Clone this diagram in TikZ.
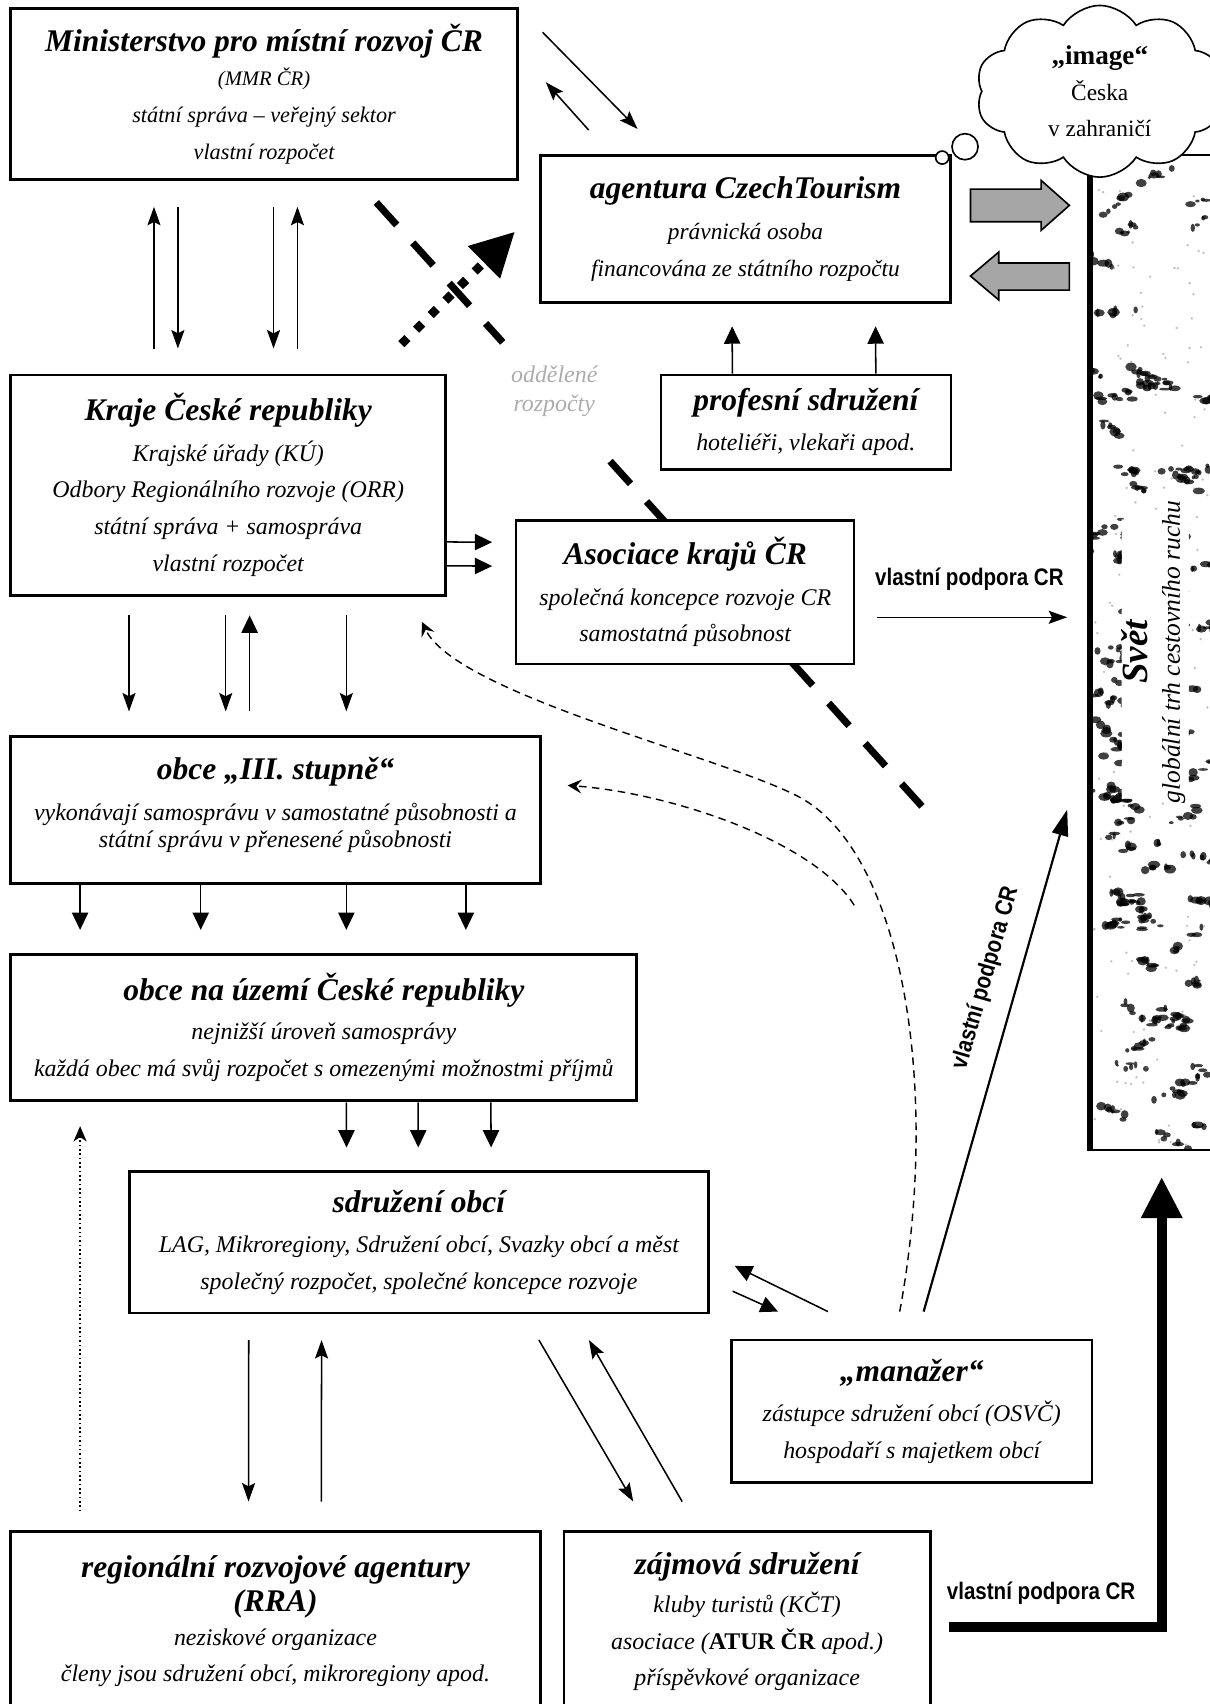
\documentclass[tikz,border=0pt]{standalone}
\usepackage{fontspec}
\setmainfont{Liberation Serif}
\newfontfamily\podporafont{Liberation Sans}
\usepackage{graphicx}
\usetikzlibrary{arrows.meta}
\usetikzlibrary{calc, backgrounds, shapes.symbols}

\newcommand{\boxtitle}{\fontsize{29}{34}\selectfont\bfseries\itshape}
\newcommand{\podpora}{\podporafont\bfseries\fontsize{22}{22}\selectfont}

\tikzset{
  box/.style={draw, line width=2.6pt, fill=white, inner sep=0pt, align=center, font=\fontsize{22}{34}\selectfont\itshape},
  arr/.style={line width=1.4pt, -{Stealth[length=17pt, width=12pt, inset=3pt]}},
  tri/.style={line width=1.4pt, -{Triangle[length=16pt, width=15pt]}},
  dasharr/.style={line width=1.3pt, dash pattern=on 7pt off 5pt, -{Stealth[length=13pt, width=13pt, inset=5pt]}},
  podporalbl/.style={font=\podpora, inner sep=0pt}
}

\begin{document}
\begin{tikzpicture}[x=1pt, y=-1pt]
          \useasboundingbox (0,0) rectangle (1113,1568);

          \node [box, minimum width=466pt, minimum height=157pt, font=\fontsize{20.5}{34}\selectfont\itshape] (mmr) at (243,86.5) {{\boxtitle Ministerstvo pro místní rozvoj ČR}\\[-3pt]{\fontsize{19}{34}\selectfont (MMR ČR)}\\státní správa – veřejný sektor\\vlastní rozpočet}; % Draws a box
          \node [box, minimum width=378pt, minimum height=135pt, font=\fontsize{21.5}{34}\selectfont\itshape] (ct) at (686,210.5) {{\boxtitle agentura CzechTourism}\\[4pt]právnická osoba\\financována ze státního rozpočtu}; % Draws a box
          \node [box, minimum width=400pt, minimum height=203pt] (kraje) at (210,446.5) {{\boxtitle Kraje České republiky}\\[3pt]Krajské úřady (KÚ)\\Odbory Regionálního rozvoje (ORR)\\státní správa + samospráva\\vlastní rozpočet}; % Draws a box
          \node [box, line width=2.2pt, minimum width=267pt, minimum height=87pt] (prof) at (741.5,388.5) {{\boxtitle profesní sdružení}\\[3pt]hoteliéři, vlekaři apod.}; % Draws a box
          \node [box, line width=2.2pt, minimum width=311pt, minimum height=132pt] (asoc) at (630.5,545) {{\boxtitle Asociace krajů ČR}\\[3pt]společná koncepce rozvoje CR\\samostatná působnost}; % Draws a box
          \node [box, minimum width=487pt, minimum height=135pt] (obce3) at (253.5,745.5) {{\boxtitle obce „III. stupně“}\\[4pt]vykonávají samosprávu v samostatné působnosti a\\[-9pt]státní správu v přenesené působnosti\\[-20pt]\mbox{}}; % Draws a box
          \node [box, minimum width=576pt, minimum height=135pt] (obcecr) at (298,945.5) {{\boxtitle obce na území České republiky}\\[2pt]nejnižší úroveň samosprávy\\každá obec má svůj rozpočet s omezenými možnostmi příjmů}; % Draws a box
          \node [box, line width=2.2pt, minimum width=533pt, minimum height=130pt] (sdruz) at (385.5,1143) {{\boxtitle sdružení obcí}\\[3pt]LAG, Mikroregiony, Sdružení obcí, Svazky obcí a měst\\společný rozpočet, společné koncepce rozvoje}; % Draws a box
          \node [box, line width=2.2pt, minimum width=332pt, minimum height=131pt] (manazer) at (839,1298.5) {{\boxtitle „manažer“}\\[3pt]zástupce sdružení obcí (OSVČ)\\hospodaří s majetkem obcí}; % Draws a box
          \node [box, minimum width=487pt, minimum height=166pt] (rra) at (253.5,1492) {{\boxtitle regionální rozvojové agentury}\\[-3pt]{\boxtitle (RRA)}\\[-3pt]neziskové organizace\\členy jsou sdružení obcí, mikroregiony apod.}; % Draws a box
          \node [box, minimum width=337pt, minimum height=166pt] (zajm) at (687.5,1492) {{\boxtitle zájmová sdružení}\\[1pt]kluby turistů (KČT)\\asociace ({\upshape\bfseries ATUR ČR} apod.)\\příspěvkové organizace}; % Draws a box

          % the world strip
          \node [draw, line width=2pt, fill=white, minimum width=121pt, minimum height=915pt, inner sep=0pt] (svet) at (1064.5,600.5) {};
          \begin{scope}[even odd rule]
            \clip ($(svet.north west)+(2,1)$) rectangle ($(svet.south east)+(-1,-1)$) (1032,478) rectangle (1094,735);
            \pgfmathsetseed{11}
            \foreach \c in {1,...,80}{
              \pgfmathsetmacro{\clx}{1006+110*rnd}
              \pgfmathsetmacro{\cly}{147+908*rnd}
              \pgfmathsetmacro{\cla}{-40+80*rnd}
              \foreach \j in {1,...,7}{
                \pgfmathsetmacro{\bt}{-17+34*rnd}
                \pgfmathsetmacro{\bx}{\clx+\bt*cos(\cla)+3*rand}
                \pgfmathsetmacro{\by}{\cly+\bt*sin(\cla)+3*rand}
                \pgfmathsetmacro{\brx}{1.5+4.5*rnd}
                \pgfmathsetmacro{\bry}{1.2+3*rnd}
                \fill [black, opacity=0.75] (\bx,\by) ellipse [x radius=\brx, y radius=\bry];
              }
            }
            \foreach \i in {1,...,150}{
              \pgfmathsetmacro{\bx}{1006+110*rnd}
              \pgfmathsetmacro{\by}{145+911*rnd}
              \fill [gray, opacity=0.5] (\bx,\by) circle [radius=1.2];
            }
          \end{scope}
          \draw [line width=5pt] (svet.north west) -- (svet.south west);
          \node [rotate=90, font=\fontsize{34}{34}\selectfont\bfseries\itshape] (svettitle) at (1044,600) {Svět};
          \node [rotate=90, font=\fontsize{23.5}{24}\selectfont\itshape] (svetsub) at (1080,600) {globální trh cestovního ruchu};

          % the cloud
          \node [cloud, draw, line width=1.5pt, fill=white, cloud puffs=10, cloud puff arc=115, aspect=1.5, minimum width=228pt, minimum height=158pt, align=center, font=\fontsize{21.5}{33}\selectfont] (image) at (1012,84) {{\bfseries\fontsize{25}{33}\selectfont „image“}\\Česka\\v zahraničí};
          \node [circle, draw, line width=1.5pt, fill=white, minimum size=24pt, inner sep=0pt] (bub2) at (888,135) {};
          \node [circle, draw, line width=1.5pt, fill=white, minimum size=12pt, inner sep=0pt] (bub1) at (867,145) {};

          \filldraw [fill=gray!70, line width=1.5pt] (893,174) -- (958,174) -- (958,166) -- (984,189) -- (958,212) -- (958,204) -- (893,204) -- cycle; % Draws a block arrow
          \filldraw [fill=gray!70, line width=1.5pt] (984,242) -- (919,242) -- (919,232) -- (893,254) -- (919,276) -- (919,267) -- (984,267) -- cycle; % Draws a block arrow

          \node [font=\fontsize{22}{26}\selectfont\itshape, text=gray!65, align=center] (oddel) at (510,360) {oddělené\\rozpočty};

          \node [podporalbl] (podpA) at (892,533) {\scalebox{0.86}[1]{vlastní podpora CR}};
          \node [podporalbl, rotate=74] (podpB) at (907,900) {\scalebox{0.86}[1]{vlastní podpora CR}};
          \node [podporalbl] (podpC) at (958,1466) {\scalebox{0.86}[1]{vlastní podpora CR}};

          % separate budgets
          \coordinate (dashA) at ($(mmr.south east)+(-131,20)$);
          \coordinate (dashB) at ($(asoc.south east)+(65,134)$);
          \begin{scope}[on background layer]
            \draw [line width=6.5pt, dash pattern=on 28pt off 22pt] (dashA) -- ($(dashA)!0.23!(dashB)$);
            \draw [line width=6.5pt, dash pattern=on 28pt off 22pt, dash phase=46pt] ($(dashA)!0.42!(dashB)$) -- (dashB);
          \end{scope}
          \draw [line width=8pt, dash pattern=on 8pt off 11pt, -{Triangle[length=40pt, width=40pt]}] ($(kraje.north east)+(-42,-27)$) -- ($(ct.south west)+(-22,-66)$);

          \draw [arr] ($(kraje.north west)+(133,-23)$) to ($(mmr.south west)+(133,24)$);
          \draw [arr] ($(mmr.south west)+(155,24)$) to ($(kraje.north west)+(155,-23)$);
          \draw [arr] ($(mmr.south west)+(243,24)$) to ($(kraje.north west)+(243,-23)$);
          \draw [arr] ($(kraje.north west)+(265,-23)$) to ($(mmr.south west)+(265,24)$);

          \draw [arr] ($(mmr.north east)+(22,23)$) to ($(ct.north west)+(91,-23)$);
          \draw [arr] ($(ct.north west)+(46,-22)$) to ($(mmr.north east)+(25,69)$);

          \draw [tri] ($(prof.north west)+(67,0)$) to ($(ct.south west)+(178,21)$);
          \draw [tri] ($(prof.north west)+(199,0)$) to ($(ct.south west)+(310,21)$);

          \draw [tri] ($(kraje.north east)+(0,155)$) to ($(asoc.north west)+(-21,21)$);
          \draw [tri] ($(kraje.north east)+(0,177)$) to ($(asoc.north west)+(-21,43)$);
          \draw [arr] ($(asoc.east)+(20,23)$) to ($(svet.west)+(-21,-32.5)$);

          \draw [arr] ($(kraje.south west)+(110,17)$) to ($(obce3.north west)+(110,-22)$);
          \draw [arr] ($(kraje.south west)+(199,17)$) to ($(obce3.north west)+(199,-22)$);
          \draw [tri] ($(obce3.north west)+(221,-22)$) to ($(kraje.south west)+(221,17)$);
          \draw [arr] ($(kraje.south west)+(310,17)$) to ($(obce3.north west)+(310,-22)$);

          \draw [tri] ($(obce3.south west)+(65,0)$) to ($(obcecr.north west)+(65,-21)$);
          \draw [tri] ($(obce3.south west)+(176,0)$) to ($(obcecr.north west)+(176,-21)$);
          \draw [tri] ($(obce3.south west)+(310,0)$) to ($(obcecr.north west)+(310,-21)$);
          \draw [tri] ($(obce3.south west)+(420,0)$) to ($(obcecr.north west)+(420,-21)$);

          \draw [tri] ($(obcecr.south west)+(310,0)$) to ($(sdruz.north west)+(201,-21)$);
          \draw [tri] ($(obcecr.south west)+(376,0)$) to ($(sdruz.north west)+(267,-21)$);
          \draw [tri] ($(obcecr.south west)+(443,0)$) to ($(sdruz.north west)+(334,-21)$);

          \draw [line width=1.4pt, dash pattern=on 1.5pt off 2.5pt, -{Stealth[length=14pt, width=12pt, inset=4pt]}] ($(rra.north west)+(65,-17)$) to ($(obcecr.south west)+(65,22)$);

          \draw [arr] ($(sdruz.south west)+(111,24)$) to ($(rra.north west)+(220,-26)$);
          \draw [arr] ($(rra.north west)+(287,-26)$) to ($(sdruz.south west)+(178,24)$);
          \draw [arr] ($(sdruz.south west)+(378,24)$) to ($(zajm.north west)+(65,-26)$);
          \draw [arr] ($(zajm.north west)+(110,-26)$) to ($(sdruz.south west)+(424,24)$);

          \draw [tri] ($(manazer.north west)+(90,-25)$) to ($(sdruz.north east)+(23,88)$);
          \draw [tri] ($(sdruz.south east)+(21,-21)$) to ($(manazer.north west)+(44,-25)$);

          \coordinate (bendA) at (740,736);
          \draw [dasharr] ($(manazer.north west)+(156,-25)$) .. controls (866,1000) and (830,790) .. (bendA) .. controls (680,700) and (420,640) .. ($(kraje.south east)+(-23,23)$);
          \coordinate (startB) at (786,833);
          \draw [dasharr] (startB) .. controls (750,775) and (620,730) .. ($(obce3.north east)+(24,46)$);

          \draw [line width=2pt, -{Triangle[length=24pt, width=15pt]}] ($(manazer.north west)+(178,-25)$) to ($(svet.west)+(-21,144.5)$);

          \coordinate (lstart) at (873,1497);
          \draw [line width=9pt, -{Triangle[length=38pt, width=36pt]}] (lstart) -| ($(svet.south)+(4.5,24)$);
        \end{tikzpicture}
\end{document}
